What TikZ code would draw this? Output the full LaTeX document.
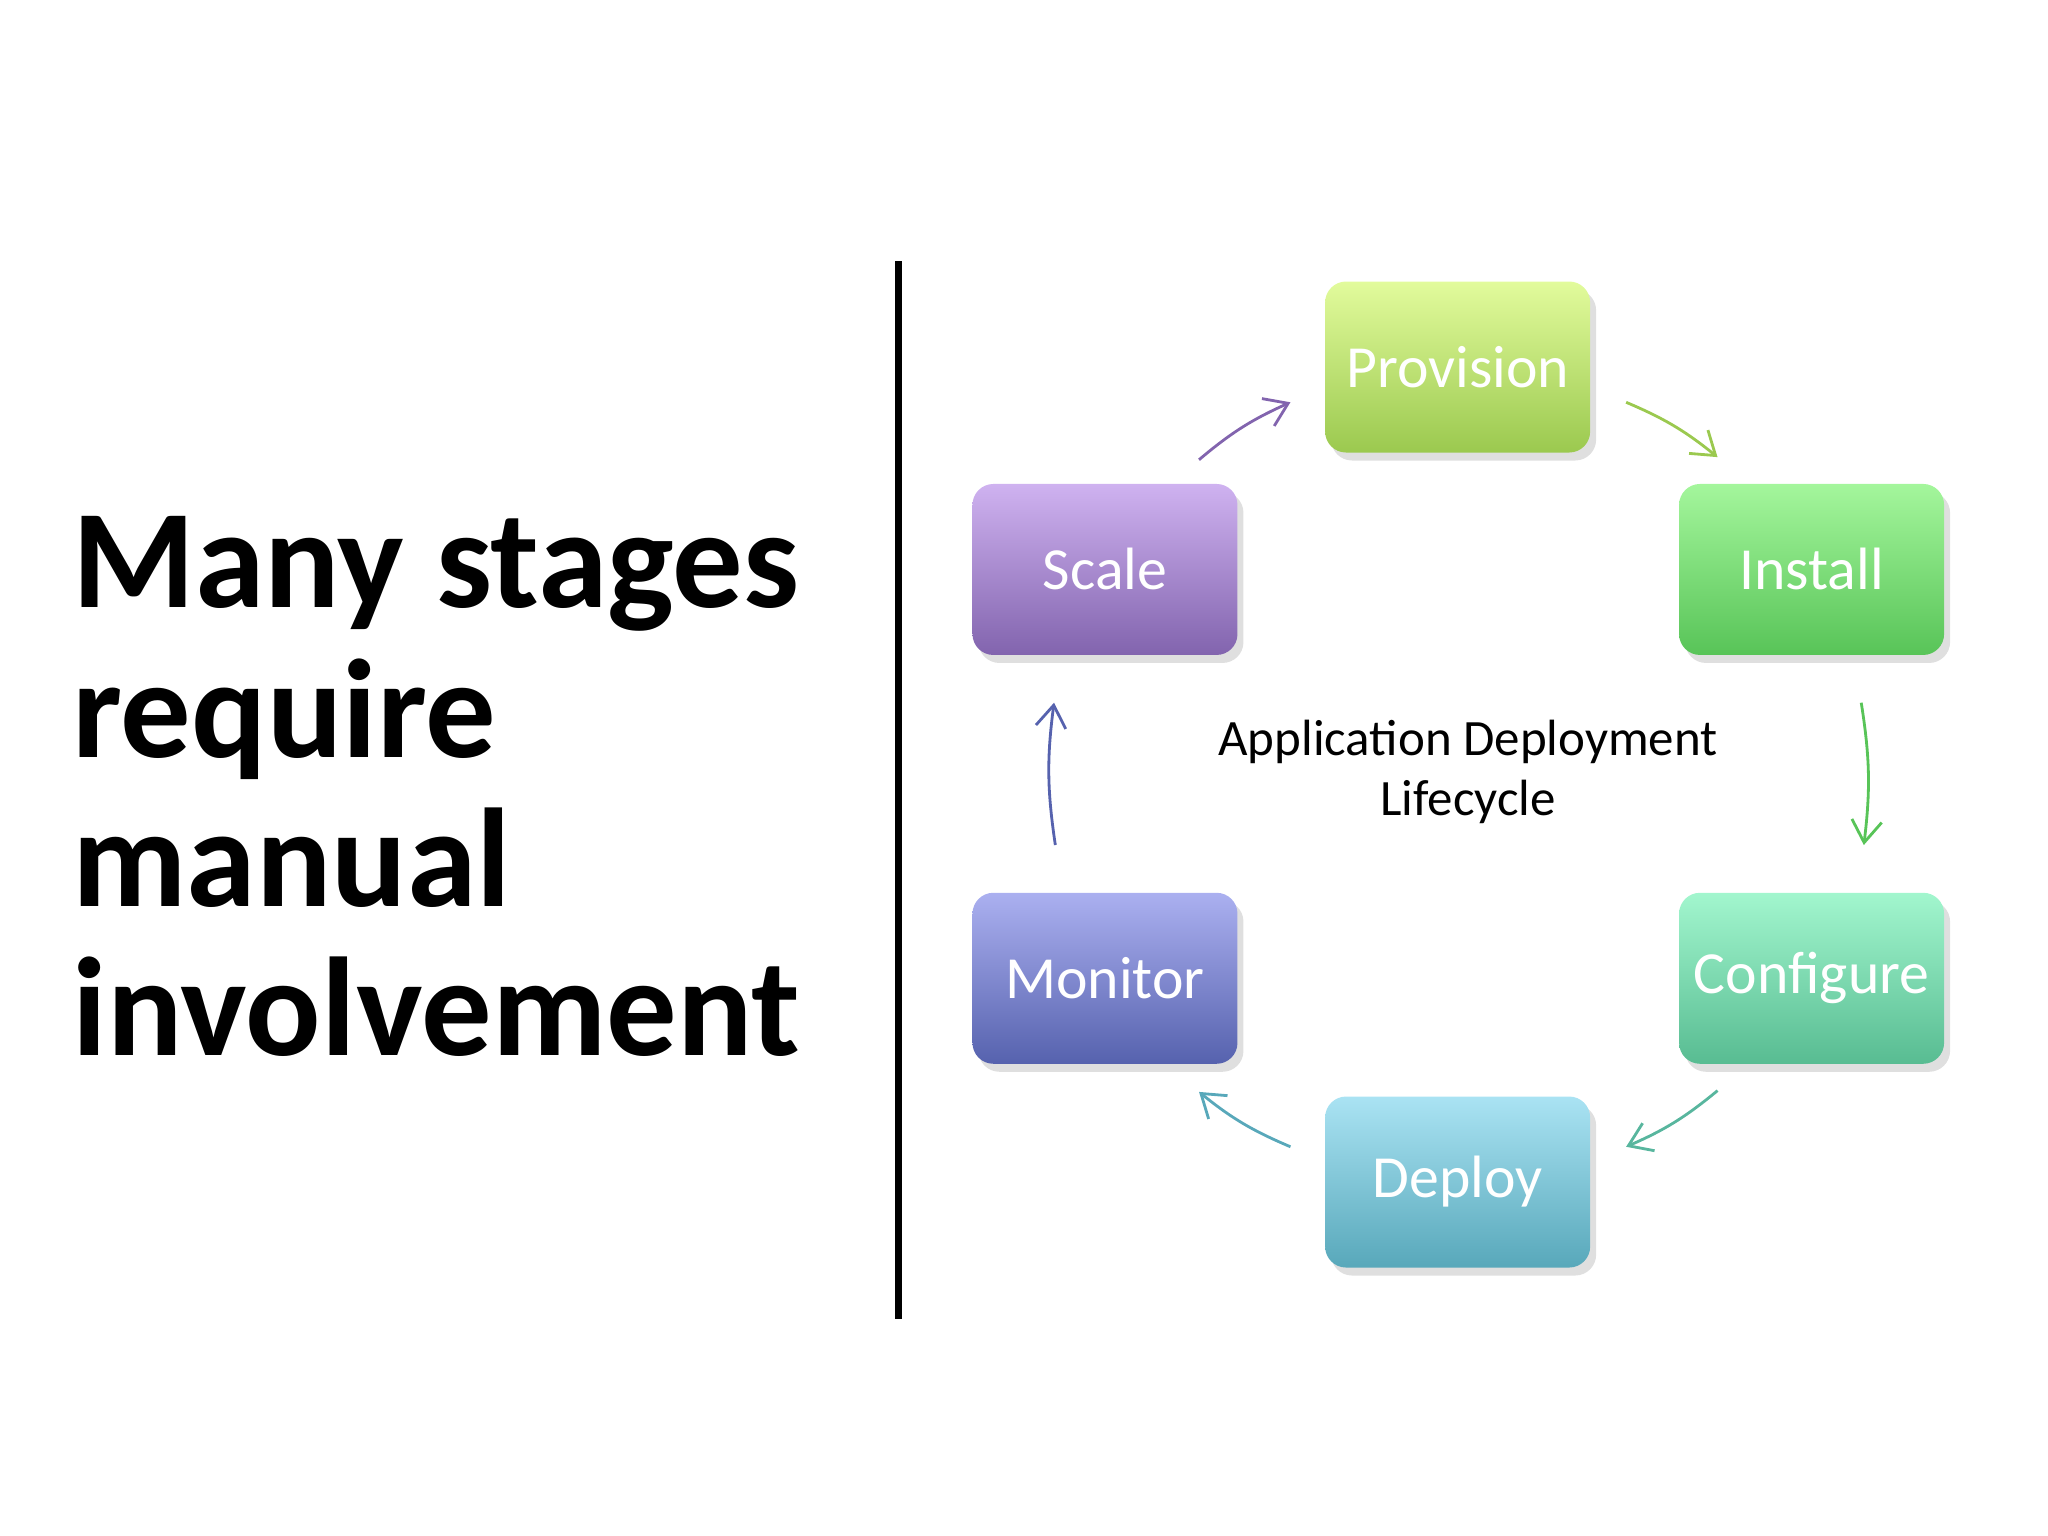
\documentclass[tikz,border=0pt]{standalone}
\usepackage{fontspec}
\setmainfont{Carlito}
\usetikzlibrary{shadows,arrows.meta}
\definecolor{pA}{HTML}{E2FB9C}\definecolor{pB}{HTML}{9BC94F}
\definecolor{iA}{HTML}{A4F69C}\definecolor{iB}{HTML}{58C458}
\definecolor{cA}{HTML}{A2F6CE}\definecolor{cB}{HTML}{58BC92}
\definecolor{dA}{HTML}{AAE3F3}\definecolor{dB}{HTML}{58A8BA}
\definecolor{mA}{HTML}{ABB0F0}\definecolor{mB}{HTML}{5662AE}
\definecolor{sA}{HTML}{CFB2F0}\definecolor{sB}{HTML}{8264AE}
\begin{document}
\begin{tikzpicture}[x=0.013061cm,y=-0.013061cm,
 stage/.style={rounded corners=16*0.13061mm,minimum width=2.65cm,minimum height=1.71cm,
   text=white,font=\fontsize{17}{20}\selectfont,drop shadow={opacity=0.25,shadow xshift=0.6mm,shadow yshift=-0.8mm}},
 arr/.style={line width=0.8pt,-{Straight Barb[length=2.2mm,width=3mm]}}]
\useasboundingbox (0,0) rectangle (1568,1176);
\node[anchor=north west,align=left,font=\fontsize{40}{42.5}\selectfont\bfseries,inner sep=0] (title) at (55,395)
 {Many stages\\require\\manual\\involvement};
\coordinate (lt) at (688,200); \coordinate (lb) at (688,1010);
\draw[line width=2pt] (lt) -- (lb);
\node[stage,top color=pA,bottom color=pB] (prov) at (1116,281) {Provision};
\node[stage,top color=iA,bottom color=iB] (inst) at (1387,436) {Install};
\node[stage,top color=cA,bottom color=cB] (conf) at (1387,749) {Configure};
\node[stage,top color=dA,bottom color=dB] (depl) at (1116,905) {Deploy};
\node[stage,top color=mA,bottom color=mB] (moni) at (846,749) {Monitor};
\node[stage,top color=sA,bottom color=sB] (scal) at (846,436) {Scale};
\node[align=center,font=\fontsize{14.5}{17}\selectfont] (lab) at (1124,591) {Application Deployment\\Lifecycle};
\coordinate (a1) at (918,352); \coordinate (a2) at (988,308);
\coordinate (b1) at (1245,308); \coordinate (b2) at (1315,350);
\coordinate (c1) at (1425,538); \coordinate (c2) at (1427,647);
\coordinate (d1) at (1315,835); \coordinate (d2) at (1245,878);
\coordinate (e1) at (988,878); \coordinate (e2) at (918,836);
\coordinate (f1) at (808,647); \coordinate (f2) at (807,538);
\draw[arr,color=sB] (a1) to[bend left=8] (a2);
\draw[arr,color=pB] (b1) to[bend left=8] (b2);
\draw[arr,color=iB] (c1) to[bend left=8] (c2);
\draw[arr,color=cB!70!dB] (d1) to[bend left=8] (d2);
\draw[arr,color=dB] (e1) to[bend left=8] (e2);
\draw[arr,color=mB] (f1) to[bend left=8] (f2);
\end{tikzpicture}
\end{document}
